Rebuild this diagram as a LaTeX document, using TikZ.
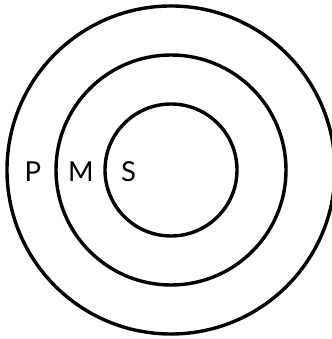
\documentclass[tikz,border=0pt]{standalone}
\usepackage{fontspec}
\setmainfont{Lato}
\begin{document}
\begin{tikzpicture}[x=1pt,y=1pt,
  ring/.style={draw=black,line width=3.4pt},
  lbl/.style={font=\fontsize{27.5}{27.5}\selectfont,inner sep=0pt,anchor=center}]
\useasboundingbox (0,0) rectangle (331,339);
\coordinate (c) at (171,169);
\draw[ring] (c) circle[radius=164];
\draw[ring] (c) circle[radius=115];
\draw[ring] (c) circle[radius=66];
\node[lbl] (p) at (33,167) {P};
\node[lbl] (m) at (81,167) {M};
\node[lbl] (s) at (128.5,167) {S};
\end{tikzpicture}
\end{document}
